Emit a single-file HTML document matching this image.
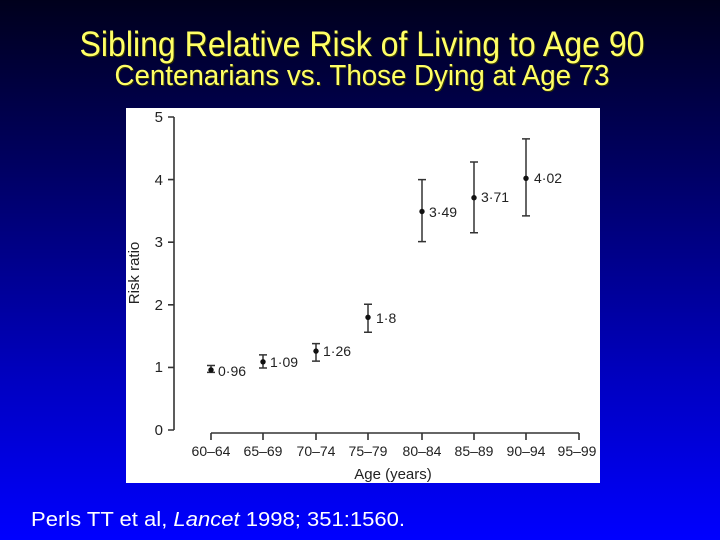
<!DOCTYPE html>
<html><head><meta charset="utf-8"><style>
html,body{margin:0;padding:0;width:720px;height:540px;overflow:hidden}
body{background:linear-gradient(to bottom,#00001c 0%,#000060 30%,#0000c0 70%,#0000ff 100%)}
</style></head><body>
<svg width="720" height="540" xmlns="http://www.w3.org/2000/svg" style="position:absolute;left:0;top:0">
<g font-family="Liberation Sans, sans-serif" fill="#ffff66" text-anchor="middle">
<text x="363" y="57" font-size="35" textLength="565" lengthAdjust="spacingAndGlyphs" fill="#333300">Sibling Relative Risk of Living to Age 90</text>
<text x="362" y="56" font-size="35" textLength="565" lengthAdjust="spacingAndGlyphs">Sibling Relative Risk of Living to Age 90</text>
<text x="363" y="86" font-size="29" textLength="495" lengthAdjust="spacingAndGlyphs" fill="#333300">Centenarians vs. Those Dying at Age 73</text>
<text x="362" y="85" font-size="29" textLength="495" lengthAdjust="spacingAndGlyphs">Centenarians vs. Those Dying at Age 73</text>
</g>
<rect x="126" y="108" width="474" height="375" fill="#fff"/>
<g stroke="#333" stroke-width="1.6" fill="none">
<path d="M174 117V430"/>
<path d="M168 117H174M168 179.6H174M168 242.2H174M168 304.8H174M168 367.4H174M168 430H174"/>
<path d="M211 433H579"/>
<path d="M211 433V440M263 433V440M316 433V440M368 433V440M422 433V440M474 433V440M526 433V440M579 433V440"/>
</g>
<g font-family="Liberation Sans, sans-serif" font-size="15" fill="#222" text-anchor="end">
<text x="163" y="122">5</text><text x="163" y="185">4</text><text x="163" y="247">3</text>
<text x="163" y="310">2</text><text x="163" y="372">1</text><text x="163" y="435">0</text>
</g>
<g font-family="Liberation Sans, sans-serif" font-size="14" fill="#222" text-anchor="middle">
<text x="211" y="456">60–64</text><text x="263" y="456">65–69</text><text x="316" y="456">70–74</text><text x="368" y="456">75–79</text>
<text x="422" y="456">80–84</text><text x="474" y="456">85–89</text><text x="526" y="456">90–94</text><text x="577" y="456">95–99</text>
<text x="393" y="479" font-size="15">Age (years)</text>
<text transform="translate(139,273) rotate(-90)" font-size="15">Risk ratio</text>
</g>
<g stroke="#333" stroke-width="1.5" fill="none">
<path d="M211 365.5V372.4M207 365.5H215M207 372.4H215"/>
<path d="M263 354.9V368M259 354.9H267M259 368H267"/>
<path d="M316 343.6V361.1M312 343.6H320M312 361.1H320"/>
<path d="M368 304.2V332.3M364 304.2H372M364 332.3H372"/>
<path d="M422 179.6V241.6M418 179.6H426M418 241.6H426"/>
<path d="M474 162V232.8M470 162H478M470 232.8H478"/>
<path d="M526 138.9V215.9M522 138.9H530M522 215.9H530"/>
</g>
<g fill="#111">
<circle cx="211" cy="369.9" r="2.7"/><circle cx="263" cy="361.8" r="2.7"/><circle cx="316" cy="351.1" r="2.7"/>
<circle cx="368" cy="317.3" r="2.7"/><circle cx="422" cy="211.5" r="2.7"/><circle cx="474" cy="197.7" r="2.7"/><circle cx="526" cy="178.3" r="2.7"/>
</g>
<g font-family="Liberation Sans, sans-serif" font-size="14" fill="#222">
<text x="218" y="376">0·96</text><text x="270" y="367">1·09</text><text x="323" y="356">1·26</text>
<text x="376" y="323">1·8</text><text x="429" y="217">3·49</text><text x="481" y="202">3·71</text><text x="534" y="183">4·02</text>
</g>
<text x="31" y="526" font-family="Liberation Sans, sans-serif" font-size="20" fill="#fff" textLength="374" lengthAdjust="spacingAndGlyphs">Perls TT et al, <tspan font-style="italic">Lancet</tspan> 1998; 351:1560.</text>
</svg>
</body></html>
